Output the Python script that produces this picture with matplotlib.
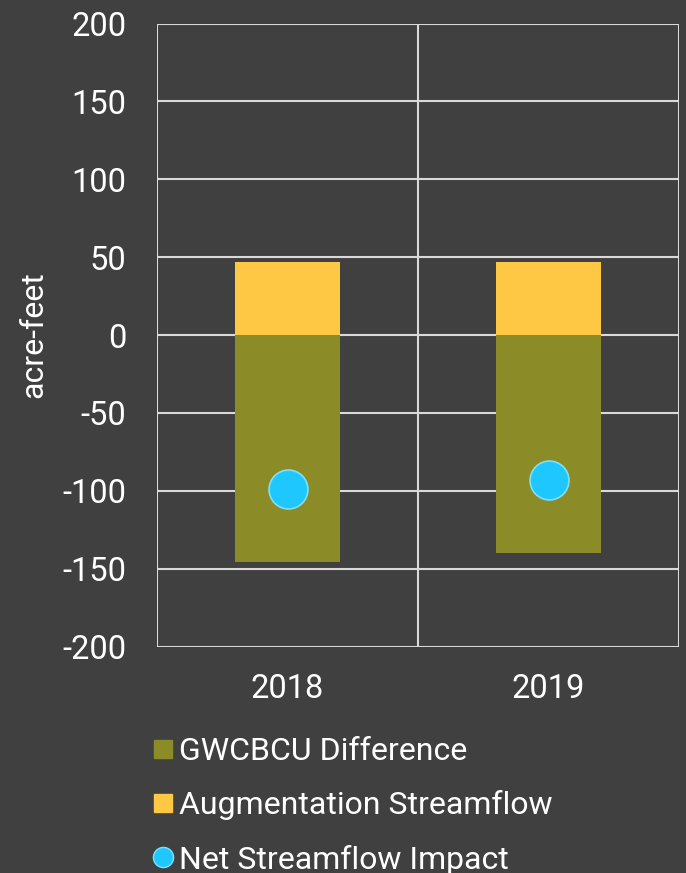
import matplotlib
matplotlib.use("Agg")
import matplotlib.pyplot as plt
from matplotlib.lines import Line2D
import numpy as np

categories = ["2018", "2019"]
gwcbcu_difference = [-146, -140]
augmentation_streamflow = [47, 47]
net_streamflow_impact = [-99, -93]
y_ticks = [-200, -150, -100, -50, 0, 50, 100, 150, 200]

BG = "#404040"
GREEN = "#8b8b28"
YELLOW = "#ffc844"
CYAN = "#1ec8ff"
GRID = "#d9d9d9"

plt.rcParams['font.family'] = ['Roboto', 'DejaVu Sans']

fig = plt.figure(figsize=(6.86, 8.73), dpi=100, facecolor=BG)
ax = fig.add_axes([157/686, 1-646.5/873, (679-157)/686, 623/873])
ax.set_facecolor(BG)

x = np.arange(len(categories))
ax.bar(x, gwcbcu_difference, width=0.40, color=GREEN, zorder=3)
ax.bar(x, augmentation_streamflow, width=0.40, color=YELLOW, zorder=3)
ax.plot(x, net_streamflow_impact, linestyle="none", marker="o", markersize=28,
        markerfacecolor=CYAN, markeredgecolor="#7fdfff", markeredgewidth=1.2, zorder=4)

ax.set_xlim(-0.5, len(categories) - 0.5)
ax.set_ylim(-200, 200)
ax.set_yticks(y_ticks)
ax.set_yticklabels([str(v) for v in y_ticks])
ax.set_xticks(x)
ax.set_xticklabels(categories)
ax.set_xticks(np.arange(len(categories) + 1) - 0.5, minor=True)

ax.grid(True, axis="y", which="major", color=GRID, linewidth=1.5, zorder=1)
ax.grid(True, axis="x", which="minor", color=GRID, linewidth=1.5, zorder=1)
ax.grid(False, axis="x", which="major")
for s in ax.spines.values():
    s.set_visible(False)
ax.tick_params(axis="both", which="both", length=0, colors="white", labelsize=23.5)
ax.tick_params(axis="y", pad=22)
ax.tick_params(axis="x", pad=19)
ax.set_ylabel("acre-feet", color="white", fontsize=23, labelpad=10)

handles = [
    Line2D([], [], linestyle="none", marker="s", markersize=13, markerfacecolor=GREEN, markeredgecolor=GREEN),
    Line2D([], [], linestyle="none", marker="s", markersize=13, markerfacecolor=YELLOW, markeredgecolor=YELLOW),
    Line2D([], [], linestyle="none", marker="o", markersize=14.5, markerfacecolor=CYAN, markeredgecolor="#7fdfff"),
]
labels = ["GWCBCU Difference", "Augmentation Streamflow", "Net Streamflow Impact"]
leg = fig.legend(handles, labels, loc="upper left", bbox_to_anchor=(153/686, 1-737/873),
                 frameon=False, fontsize=23, labelcolor="white", handlelength=0.6,
                 handletextpad=0.2, labelspacing=0.76, borderaxespad=0, borderpad=0)

fig.savefig("out.png", dpi=100, facecolor=BG)
